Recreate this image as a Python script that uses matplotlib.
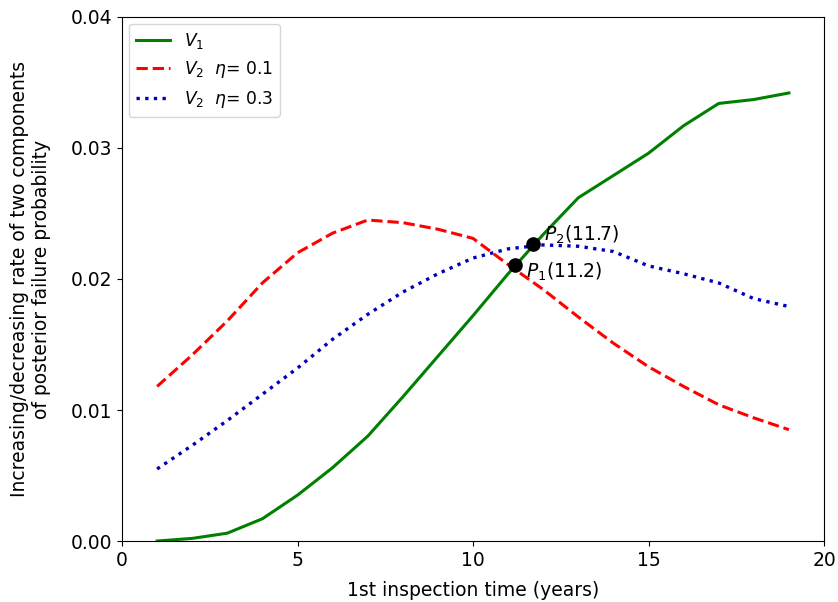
import numpy as np
import matplotlib.pyplot as plt

plt.rcParams['font.size'] = 13.5

t = np.arange(1, 20)

v1 = [0.0000, 0.0002, 0.0006, 0.0017, 0.0035, 0.0056, 0.0080, 0.0110, 0.0141,
      0.0172, 0.0204, 0.0234, 0.0262, 0.0279, 0.0296, 0.0317, 0.0334, 0.0337, 0.0342]
v2_01 = [0.0118, 0.0142, 0.0168, 0.0197, 0.0220, 0.0235, 0.0245, 0.0243, 0.0238,
         0.0231, 0.0211, 0.0192, 0.0171, 0.0151, 0.0133, 0.0118, 0.0104, 0.0094, 0.0085]
v2_03 = [0.0055, 0.0073, 0.0092, 0.0112, 0.0132, 0.0154, 0.0173, 0.0190, 0.0204,
         0.0216, 0.0223, 0.0226, 0.0225, 0.0221, 0.0210, 0.0204, 0.0197, 0.0185, 0.0179]

p_names = ["$P_1$(11.2)", "$P_2$(11.7)"]
p_x = [11.2, 11.7]
p_y = [0.0211, 0.0227]

fig = plt.figure(figsize=(8.38, 6.02), dpi=100)
ax = fig.add_axes([0.1456, 0.1013, 0.8377, 0.8705])

ax.plot(t, v1, color='green', lw=2.2, label='$V_1$')
ax.plot(t, v2_01, color='red', lw=2.2, ls=(0, (3.7, 1.6)), label=r'$V_2$  $\eta$= 0.1')
ax.plot(t, v2_03, color='#0000bb', lw=2.4, ls=(0, (1, 1.6)), label=r'$V_2$  $\eta$= 0.3')

ax.plot(p_x, p_y, 'ko', ms=9.5, zorder=5)
# labels sit just right of each point: P1 slightly below, P2 slightly above
offsets = [(8, -5), (8, 6)]
for name, px, py, off in zip(p_names, p_x, p_y, offsets):
    ax.annotate(name, (px, py), xytext=off, textcoords='offset points',
                va='center', fontsize=13.5)

ax.set_xlim(0, 20)
ax.set_ylim(0, 0.04)
ax.set_xticks([0, 5, 10, 15, 20])
ax.set_yticks([0, 0.01, 0.02, 0.03, 0.04])
ax.set_yticklabels(['0.00', '0.01', '0.02', '0.03', '0.04'])
ax.set_xlabel('1st inspection time (years)', labelpad=8)
ax.set_ylabel('Increasing/decreasing rate of two components\nof posterior failure probability',
              labelpad=14)
ax.legend(loc='upper left', handlelength=2.0, borderaxespad=0.4, fontsize=12.3)

fig.savefig('out.png', dpi=100)
